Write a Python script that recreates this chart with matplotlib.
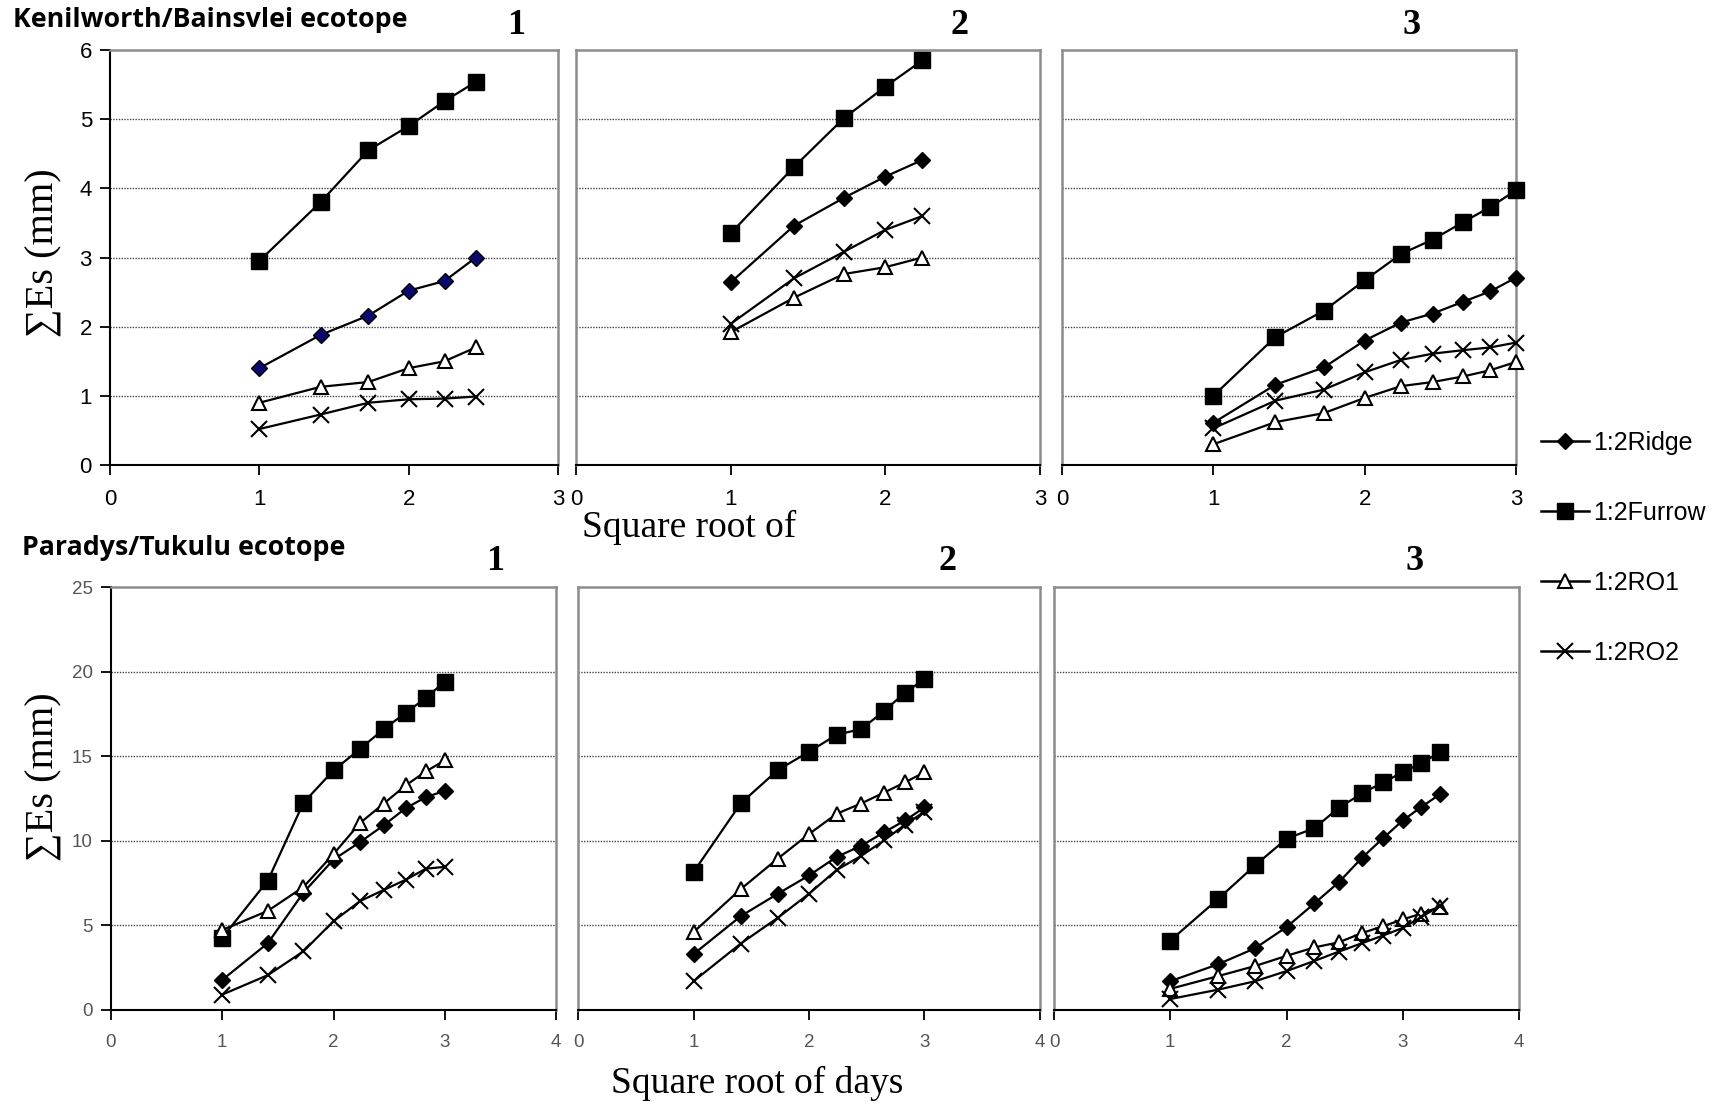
import matplotlib.pyplot as plt
from matplotlib.lines import Line2D

W, H = 1716, 1104

# square root of days
x6 = [1.0, 1.41, 1.73, 2.0, 2.24, 2.45]
x5 = [1.0, 1.41, 1.73, 2.0, 2.24]
x9 = [1.0, 1.41, 1.73, 2.0, 2.24, 2.45, 2.65, 2.83, 3.0]
x11 = [1.0, 1.41, 1.73, 2.0, 2.24, 2.45, 2.65, 2.83, 3.0, 3.16, 3.32]

series = ['1:2Ridge', '1:2Furrow', '1:2RO1', '1:2RO2']

# Kenilworth/Bainsvlei ecotope
k1_ridge = [1.40, 1.88, 2.16, 2.52, 2.66, 3.00]
k1_furrow = [2.95, 3.80, 4.55, 4.90, 5.26, 5.54]
k1_ro1 = [0.90, 1.13, 1.20, 1.40, 1.50, 1.70]
k1_ro2 = [0.52, 0.73, 0.90, 0.95, 0.96, 0.99]

k2_ridge = [2.64, 3.46, 3.86, 4.17, 4.41]
k2_furrow = [3.35, 4.31, 5.01, 5.47, 5.85]
k2_ro1 = [1.92, 2.42, 2.76, 2.86, 3.00]
k2_ro2 = [2.04, 2.70, 3.08, 3.40, 3.60]

k3_ridge = [0.61, 1.16, 1.41, 1.80, 2.06, 2.19, 2.36, 2.51, 2.71]
k3_furrow = [1.00, 1.85, 2.23, 2.67, 3.05, 3.26, 3.51, 3.73, 3.97]
k3_ro1 = [0.30, 0.62, 0.75, 0.97, 1.14, 1.20, 1.28, 1.37, 1.49]
k3_ro2 = [0.53, 0.93, 1.09, 1.34, 1.52, 1.61, 1.66, 1.70, 1.77]

# Paradys/Tukulu ecotope
p1_ridge = [1.78, 3.95, 6.94, 8.89, 9.93, 10.91, 11.93, 12.58, 12.95]
p1_furrow = [4.27, 7.65, 12.25, 14.16, 15.44, 16.59, 17.57, 18.44, 19.41]
p1_ro1 = [4.73, 5.86, 7.27, 9.22, 11.06, 12.19, 13.28, 14.10, 14.75]
p1_ro2 = [0.91, 2.06, 3.47, 5.25, 6.44, 7.09, 7.70, 8.35, 8.46]

p2_ridge = [3.30, 5.55, 6.87, 7.95, 9.05, 9.70, 10.50, 11.20, 11.97]
p2_furrow = [8.15, 12.22, 14.18, 15.26, 16.27, 16.60, 17.66, 18.75, 19.55]
p2_ro1 = [4.60, 7.15, 8.95, 10.40, 11.60, 12.20, 12.85, 13.45, 14.05]
p2_ro2 = [1.70, 3.93, 5.45, 6.87, 8.28, 9.10, 10.02, 10.95, 11.72]

p3_ridge = [1.70, 2.70, 3.65, 4.90, 6.30, 7.55, 9.00, 10.15, 11.20, 12.00, 12.75]
p3_furrow = [4.10, 6.55, 8.55, 10.12, 10.75, 11.95, 12.80, 13.45, 14.05, 14.60, 15.22]
p3_ro1 = [1.25, 2.00, 2.60, 3.20, 3.70, 4.00, 4.55, 4.95, 5.35, 5.70, 6.10]
p3_ro2 = [0.65, 1.20, 1.70, 2.30, 2.90, 3.45, 3.95, 4.40, 4.85, 5.50, 6.15]

styles = {
    '1:2Ridge': dict(marker='D', ms=8, mfc='black', mec='black'),
    '1:2Furrow': dict(marker='s', ms=12, mfc='black', mec='black'),
    '1:2RO1': dict(marker='^', ms=10, mfc='white', mec='black', mew=1.5),
    '1:2RO2': dict(marker='x', ms=11, mec='black', mew=1.5),
}

serif = ['Liberation Serif', 'DejaVu Serif']
sans = ['Liberation Sans', 'DejaVu Sans']


def px_axes(fig, x0, x1, y0, y1):
    return fig.add_axes([x0 / W, 1 - y1 / H, (x1 - x0) / W, (y1 - y0) / H])


def draw_panel(ax, x, data, ymax, yticks, xmax, first, tick_size, tick_color, ridge_fc='black'):
    for name, y in zip(series, data):
        st = dict(styles[name])
        if name == '1:2Ridge':
            st['mfc'] = ridge_fc
        ax.plot(x, y, color='black', lw=1.6, zorder=3, clip_on=False, **st)
    ax.set_xlim(0, xmax)
    ax.set_ylim(0, ymax)
    ax.set_xticks(range(0, xmax + 1))
    ax.set_yticks(yticks)
    for yv in yticks[1:-1]:
        ax.axhline(yv, color='#444444', lw=1.0, ls=(0, (1, 1)), zorder=1)
    for s in ax.spines.values():
        s.set_color('#8c8c8c')
        s.set_linewidth(1.8)
    ax.spines['bottom'].set_color('black')
    ax.spines['bottom'].set_linewidth(1.5)
    ax.tick_params(axis='x', length=7, width=1.3, pad=10, labelsize=tick_size,
                   labelcolor=tick_color)
    if first:
        ax.spines['left'].set_color('black')
        ax.spines['left'].set_linewidth(1.5)
        ax.tick_params(axis='y', length=7, width=1.3, pad=6, labelsize=tick_size,
                       labelcolor=tick_color)
    else:
        ax.tick_params(axis='y', left=False, labelleft=False)
    for lab in ax.get_xticklabels() + ax.get_yticklabels():
        lab.set_family(sans)


fig = plt.figure(figsize=(W / 100, H / 100), dpi=100)

top = [(110, 558, x6, [k1_ridge, k1_furrow, k1_ro1, k1_ro2]),
       (576, 1040, x5, [k2_ridge, k2_furrow, k2_ro1, k2_ro2]),
       (1062, 1516, x9, [k3_ridge, k3_furrow, k3_ro1, k3_ro2])]
bottom = [(111, 556, x9, [p1_ridge, p1_furrow, p1_ro1, p1_ro2]),
          (578, 1040, x9, [p2_ridge, p2_furrow, p2_ro1, p2_ro2]),
          (1054, 1519, x11, [p3_ridge, p3_furrow, p3_ro1, p3_ro2])]

for i, (x0, x1, x, data) in enumerate(top):
    ax = px_axes(fig, x0, x1, 50, 465)
    draw_panel(ax, x, data, 6, list(range(7)), 3, i == 0, 16, 'black',
               ridge_fc='#0a0a6e' if i == 0 else 'black')

for i, (x0, x1, x, data) in enumerate(bottom):
    ax = px_axes(fig, x0, x1, 587, 1010)
    draw_panel(ax, x, data, 25, list(range(0, 26, 5)), 4, i == 0, 13.5, '#555555')

# panel numbers
for xc, yc, t in [(516, 26, '1'), (959, 26, '2'), (1412, 26, '3'),
                  (495, 561, '1'), (948, 561, '2'), (1415, 561, '3')]:
    fig.text(xc / W, 1 - yc / H, t, family=serif, fontsize=26, fontweight='bold',
             ha='center', va='center')

title_font = ['Open Sans', 'DejaVu Sans']
fig.text(13 / W, 1 - 20 / H, 'Kenilworth/Bainsvlei ecotope', family=title_font,
         fontsize=19.3, fontweight='bold', ha='left', va='center')
fig.text(22 / W, 1 - 548 / H, 'Paradys/Tukulu ecotope', family=title_font,
         fontsize=19.3, fontweight='bold', ha='left', va='center')

for yc in (253, 777):
    fig.text(44 / W, 1 - yc / H, '\u2211Es (mm)', family=serif, fontsize=29,
             rotation=90, ha='center', va='center')

fig.text(689 / W, 1 - 527 / H, 'Square root of', family=serif, fontsize=27,
         ha='center', va='center')
fig.text(757 / W, 1 - 1083 / H, 'Square root of days', family=serif, fontsize=27,
         ha='center', va='center')

handles = [Line2D([], [], color='black', lw=1.8, **styles[n]) for n in series]
leg = fig.legend(handles, series, loc='upper left', bbox_to_anchor=(1541 / W, 1 - 431 / H),
                 frameon=False, labelspacing=1.84, handlelength=1.9,
                 handletextpad=0.2, borderpad=0, borderaxespad=0,
                 prop={'family': sans, 'size': 18})

fig.savefig('out.png', dpi=100)
